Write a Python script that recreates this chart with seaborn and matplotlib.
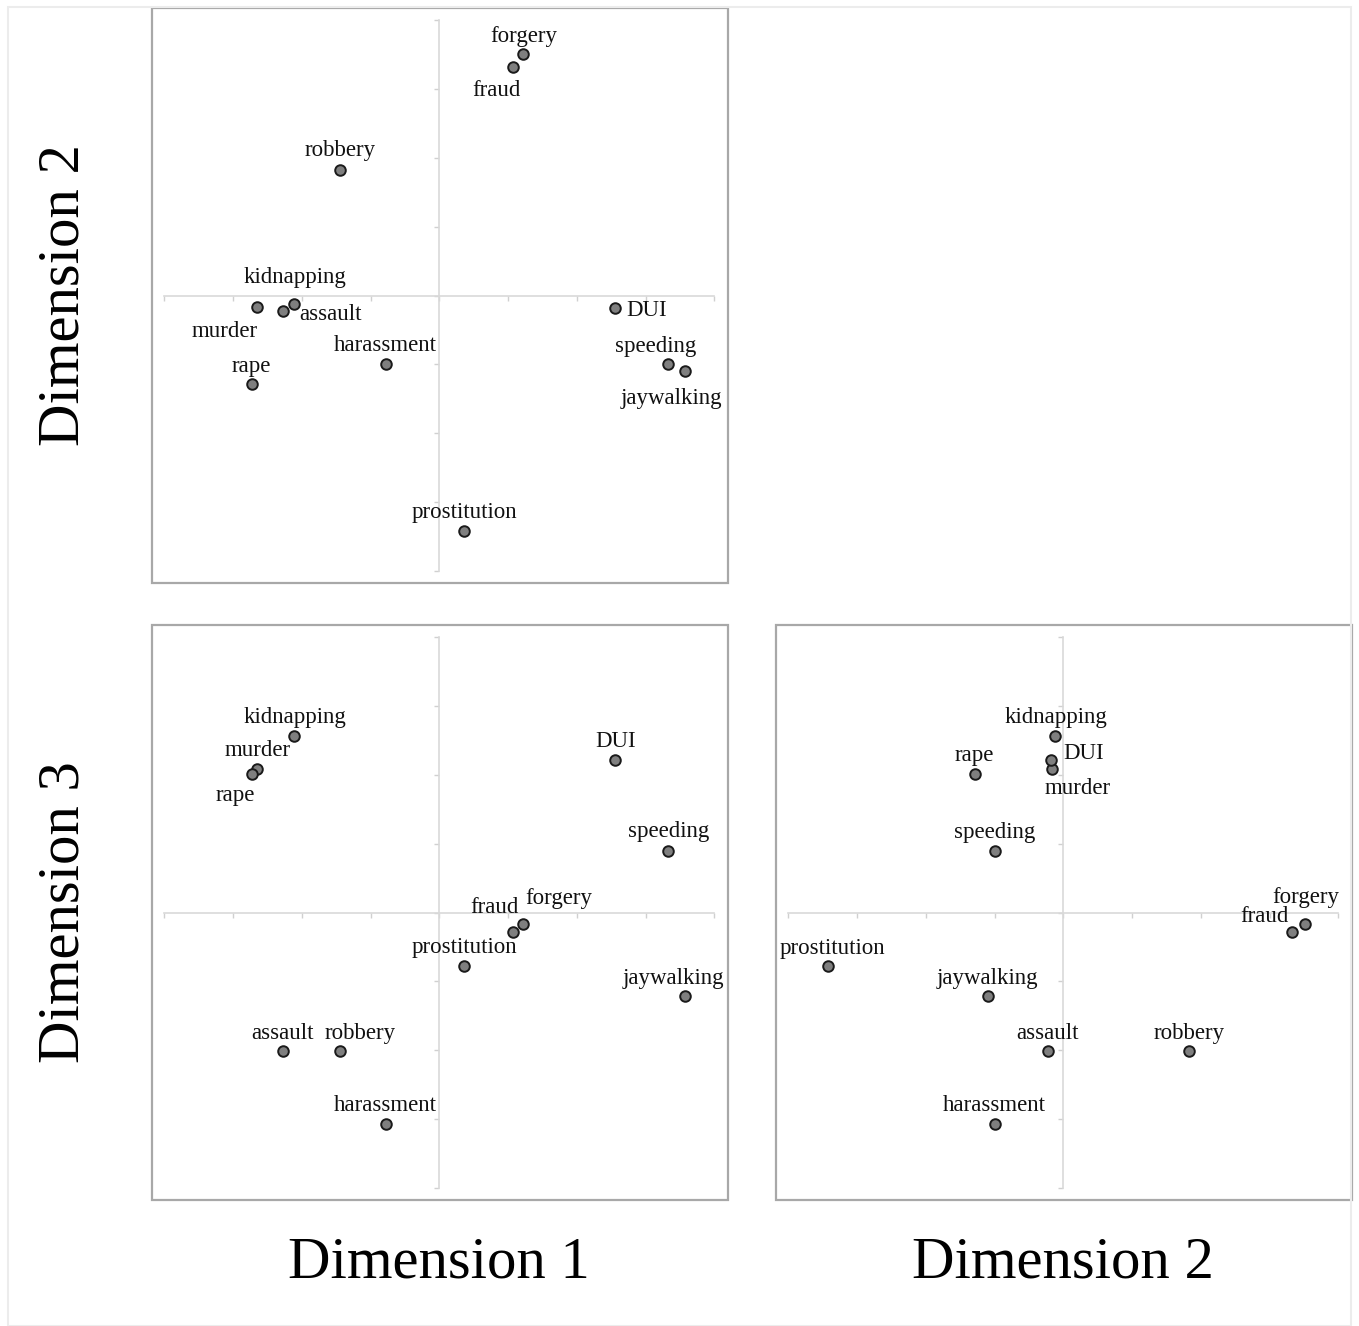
import matplotlib
matplotlib.use("Agg")
import matplotlib.pyplot as plt
import seaborn as sns
import pandas as pd
from matplotlib.patches import Rectangle

crimes = ["forgery", "fraud", "robbery", "kidnapping", "assault", "murder",
          "rape", "harassment", "DUI", "speeding", "jaywalking", "prostitution"]
dim1 = [1.22, 1.07, -1.45, -2.12, -2.28, -2.65, -2.73, -0.78, 2.56, 3.33, 3.58, 0.36]
dim2 = [3.51, 3.32, 1.83, -0.12, -0.23, -0.17, -1.29, -1.00, -0.18, -1.00, -1.10, -3.43]
dim3 = [-0.16, -0.28, -2.02, 2.56, -2.02, 2.08, 2.02, -3.08, 2.21, 0.90, -1.22, -0.78]

df = pd.DataFrame({"crime": crimes, "d1": dim1, "d2": dim2, "d3": dim3})

# label offsets in pixels (dx, dy) per panel
off_12 = {"forgery": (1, 18), "fraud": (-16, -23), "robbery": (0, 19),
          "kidnapping": (1, 26), "assault": (48, -3), "murder": (-33, -24),
          "rape": (0, 18), "harassment": (0, 19), "DUI": (31, -3),
          "speeding": (-13, 18), "jaywalking": (-14, -27), "prostitution": (0, 19)}
off_13 = {"kidnapping": (1, 19), "murder": (0, 19), "rape": (-16, -22),
          "DUI": (0, 19), "speeding": (0, 19), "fraud": (-18, 24),
          "forgery": (36, 25), "prostitution": (0, 19), "jaywalking": (-12, 18),
          "assault": (0, 18), "robbery": (20, 18), "harassment": (0, 19)}
off_23 = {"kidnapping": (1, 19), "DUI": (33, 7), "murder": (26, -19),
          "rape": (0, 18), "speeding": (0, 18), "forgery": (1, 26),
          "fraud": (-27, 15), "prostitution": (5, 18), "jaywalking": (0, 18),
          "assault": (0, 18), "robbery": (0, 18), "harassment": (0, 19)}

sns.set_style("white")
plt.rcParams["font.family"] = ["Liberation Serif", "DejaVu Serif"]

W, H = 1359, 1326
fig = plt.figure(figsize=(W / 100, H / 100), dpi=100)

# faint outer border
fig.patches.append(Rectangle((8 / W, 0), (1351 - 8) / W, 1 - 7 / H,
                             transform=fig.transFigure, fill=False,
                             edgecolor="#ececec", lw=1.5))


def make_ax(x0, y0):
    return fig.add_axes([x0 / W, 1 - (y0 + 575) / H, 576 / W, 575 / H])


def style(ax):
    ax.set_xlim(-4.18, 4.2)
    ax.set_ylim(-4.18, 4.18)
    for s in ["top", "right"]:
        ax.spines[s].set_visible(False)
    for s in ["left", "bottom"]:
        ax.spines[s].set_position(("data", 0))
        ax.spines[s].set_bounds(-4, 4)
        ax.spines[s].set_color("#d9d9d9")
        ax.spines[s].set_linewidth(1.2)
        ax.spines[s].set_zorder(1)
    ticks = list(range(-4, 5))
    ax.set_xticks(ticks)
    ax.set_yticks(ticks)
    ax.set_xticklabels([])
    ax.set_yticklabels([])
    ax.tick_params(direction="out", length=3.5, width=1, color="#d0d0d0",
                   bottom=True, left=True)
    ax.set_xlabel("")
    ax.set_ylabel("")
    ax.add_patch(Rectangle((0, 0), 1, 1, transform=ax.transAxes, fill=False,
                           edgecolor="#a8a8a8", lw=1.6, clip_on=False, zorder=5))


def panel(ax, xc, yc, offs):
    sns.scatterplot(data=df, x=xc, y=yc, ax=ax, s=58, color="#7f7f7f",
                    edgecolor="#1a1a1a", linewidth=1.4, zorder=4, legend=False)
    style(ax)
    for _, r in df.iterrows():
        dx, dy = offs[r["crime"]]
        ax.annotate(r["crime"], (r[xc], r[yc]), xytext=(dx, dy),
                    textcoords="offset pixels", ha="center", va="center",
                    fontsize=16.5, color="#111111", zorder=6)


ax1 = make_ax(152, 8)
panel(ax1, "d1", "d2", off_12)
ax2 = make_ax(152, 625)
panel(ax2, "d1", "d3", off_13)
ax3 = make_ax(776, 625)
panel(ax3, "d2", "d3", off_23)

big = dict(fontsize=42.3, color="#000000", ha="center", va="center")
fig.text(439 / W, 1 - 1263 / H, "Dimension 1", **big)
fig.text(1063 / W, 1 - 1263 / H, "Dimension 2", **big)
fig.text(65 / W, 1 - 295 / H, "Dimension 2", rotation=90, **big)
fig.text(65 / W, 1 - 912 / H, "Dimension 3", rotation=90, **big)

fig.savefig("out.png", dpi=100, facecolor="white")
